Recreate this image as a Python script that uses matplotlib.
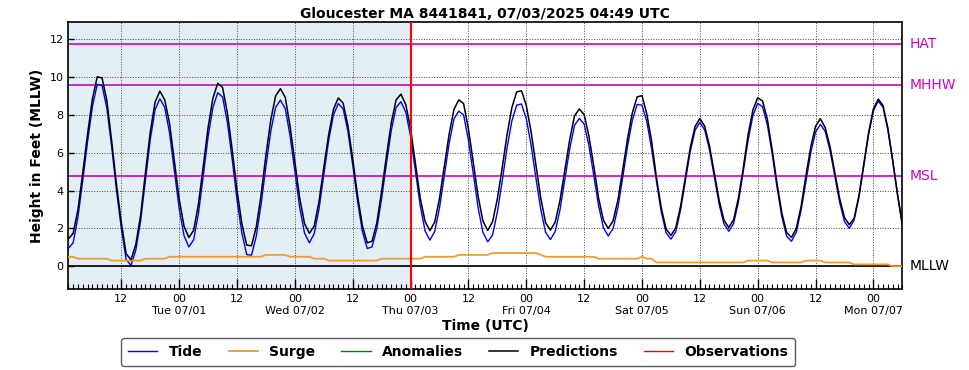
import numpy as np
import matplotlib
matplotlib.use('Agg')
import matplotlib.pyplot as plt
import matplotlib.dates as mdates
import matplotlib.transforms as mtransforms
from matplotlib.ticker import FuncFormatter

# hourly series starting 2025-06-30 01:00 UTC
start = np.datetime64('2025-06-30T01:00')
now_line = np.datetime64('2025-07-03T00:00')
x_end = np.datetime64('2025-07-07T06:00')

tide = [
    0.94, 1.24, 2.6, 4.55, 6.6, 8.45, 9.62, 9.56, 8.35, 6.3, 4.0, 2.0,
    0.35, 0.05, 0.85, 2.4, 4.55, 6.7, 8.28, 8.86, 8.40, 7.05, 5.05, 3.05,
    1.62, 1.02, 1.40, 2.8, 4.8, 6.85, 8.4, 9.18, 8.95, 7.6, 5.65, 3.5,
    1.75, 0.62, 0.58, 1.6, 3.3, 5.3, 7.15, 8.4, 8.79, 8.33, 6.9, 5.0,
    3.1, 1.75, 1.24, 1.72, 3.03, 4.83, 6.65, 8.0, 8.6, 8.33, 7.13, 5.35,
    3.43, 1.84, 0.94, 1.02, 2.0, 3.6, 5.45, 7.2, 8.4, 8.70, 8.15, 6.87,
    5.04, 3.2, 1.87, 1.38, 1.84, 3.1, 4.8, 6.5, 7.8, 8.2, 8.0, 6.65,
    4.9, 3.1, 1.8, 1.29, 1.65, 2.87, 4.5, 6.25, 7.68, 8.52, 8.58, 7.8,
    6.4, 4.65, 3.0, 1.8, 1.41, 1.84, 3.0, 4.6, 6.2, 7.45, 7.82, 7.52,
    6.37, 4.8, 3.2, 2.03, 1.6, 2.0, 3.1, 4.7, 6.35, 7.72, 8.56, 8.52,
    7.65, 6.2, 4.48, 2.87, 1.77, 1.43, 1.83, 2.97, 4.51, 6.06, 7.19, 7.6,
    7.21, 6.16, 4.73, 3.29, 2.24, 1.85, 2.26, 3.4, 4.99, 6.65, 7.96, 8.61,
    8.44, 7.48, 5.95, 4.19, 2.62, 1.59, 1.32, 1.8, 2.96, 4.49, 6.0, 7.1,
    7.5, 7.13, 6.13, 4.75, 3.38, 2.37, 2.0, 2.44, 3.64, 5.29, 6.96, 8.22,
    8.74, 8.4, 7.2, 5.6, 3.8, 2.2,
]

surge = [
    0.5, 0.5, 0.4, 0.4, 0.4, 0.4, 0.4, 0.4, 0.4, 0.3, 0.3, 0.3,
    0.3, 0.3, 0.3, 0.3, 0.4, 0.4, 0.4, 0.4, 0.4, 0.5, 0.5, 0.5,
    0.5, 0.5, 0.5, 0.5, 0.5, 0.5, 0.5, 0.5, 0.5, 0.5, 0.5, 0.5,
    0.5, 0.5, 0.5, 0.5, 0.5, 0.6, 0.6, 0.6, 0.6, 0.6, 0.5, 0.5,
    0.5, 0.5, 0.5, 0.4, 0.4, 0.4, 0.3, 0.3, 0.3, 0.3, 0.3, 0.3,
    0.3, 0.3, 0.3, 0.3, 0.3, 0.4, 0.4, 0.4, 0.4, 0.4, 0.4, 0.4,
    0.4, 0.4, 0.5, 0.5, 0.5, 0.5, 0.5, 0.5, 0.5, 0.6, 0.6, 0.6,
    0.6, 0.6, 0.6, 0.6, 0.7, 0.7, 0.7, 0.7, 0.7, 0.7, 0.7, 0.7,
    0.7, 0.7, 0.6, 0.5, 0.5, 0.5, 0.5, 0.5, 0.5, 0.5, 0.5, 0.5,
    0.5, 0.5, 0.4, 0.4, 0.4, 0.4, 0.4, 0.4, 0.4, 0.4, 0.4, 0.5,
    0.4, 0.4, 0.2, 0.2, 0.2, 0.2, 0.2, 0.2, 0.2, 0.2, 0.2, 0.2,
    0.2, 0.2, 0.2, 0.2, 0.2, 0.2, 0.2, 0.2, 0.2, 0.3, 0.3, 0.3,
    0.3, 0.3, 0.2, 0.2, 0.2, 0.2, 0.2, 0.2, 0.2, 0.3, 0.3, 0.3,
    0.3, 0.2, 0.2, 0.2, 0.2, 0.2, 0.2, 0.1, 0.1, 0.1, 0.1, 0.1,
    0.1, 0.1, 0.1, 0.0, 0.0, 0.0,
]

predictions = [
    1.44, 1.74, 3.0, 4.95, 7.0, 8.85, 10.02, 9.96, 8.75, 6.6, 4.3, 2.3,
    0.65, 0.35, 1.15, 2.7, 4.95, 7.1, 8.68, 9.26, 8.8, 7.55, 5.55, 3.55,
    2.12, 1.52, 1.9, 3.3, 5.3, 7.35, 8.9, 9.68, 9.45, 8.1, 6.15, 4.0,
    2.25, 1.12, 1.08, 2.1, 3.8, 5.9, 7.75, 9.0, 9.39, 8.93, 7.4, 5.5,
    3.6, 2.25, 1.74, 2.12, 3.43, 5.23, 6.95, 8.3, 8.9, 8.63, 7.43, 5.65,
    3.73, 2.14, 1.24, 1.32, 2.3, 4.0, 5.85, 7.6, 8.8, 9.1, 8.55, 7.27,
    5.44, 3.6, 2.37, 1.88, 2.34, 3.6, 5.3, 7.0, 8.3, 8.8, 8.6, 7.25,
    5.5, 3.7, 2.4, 1.89, 2.35, 3.57, 5.2, 6.95, 8.38, 9.22, 9.28, 8.5,
    7.1, 5.35, 3.6, 2.3, 1.91, 2.34, 3.5, 5.1, 6.7, 7.95, 8.32, 8.02,
    6.87, 5.3, 3.6, 2.43, 2.0, 2.4, 3.5, 5.1, 6.75, 8.12, 8.96, 9.02,
    8.05, 6.6, 4.68, 3.07, 1.97, 1.63, 2.03, 3.17, 4.71, 6.26, 7.39, 7.8,
    7.41, 6.36, 4.93, 3.49, 2.44, 2.05, 2.46, 3.6, 5.19, 6.95, 8.26, 8.91,
    8.74, 7.78, 6.15, 4.39, 2.82, 1.79, 1.52, 2.0, 3.16, 4.79, 6.3, 7.4,
    7.8, 7.33, 6.33, 4.95, 3.58, 2.57, 2.2, 2.54, 3.74, 5.39, 7.06, 8.32,
    8.84, 8.5, 7.3, 5.6, 3.8, 2.2,
]

datum_names = ['HAT', 'MHHW', 'MSL', 'MLLW']
datum_values = [11.74, 9.57, 4.75, 0.0]
datum_colors = ['#cc00cc', '#cc00cc', '#cc00cc', 'black']

title = 'Gloucester MA 8441841, 07/03/2025 04:49 UTC'


def fmt_time(x, pos):
    d = mdates.num2date(x)
    if d.hour == 0:
        return '00\n' + d.strftime('%a %m/%d')
    return '%02d' % d.hour


def main():
    times = start + np.arange(len(tide)) * np.timedelta64(1, 'h')

    fig = plt.figure(figsize=(9.69, 3.70), dpi=100)
    ax = fig.add_axes([0.0705, 0.2181, 0.8607, 0.7216])

    ax.axvspan(start, now_line, color='#e3eef5', zorder=0)

    for name, val, col in zip(datum_names, datum_values, datum_colors):
        ax.axhline(val, color=col, lw=1.2, zorder=2)

    ax.plot(times, tide, color='blue', lw=1.0, label='Tide', zorder=3)
    ax.plot(times, surge, color='#f39a30', lw=1.3, label='Surge', zorder=3)
    ax.plot([], [], color='green', lw=1.0, label='Anomalies')
    ax.plot(times, predictions, color='black', lw=1.1, label='Predictions', zorder=4)
    ax.plot([], [], color='red', lw=1.0, label='Observations')

    ax.axvline(now_line, color='red', lw=1.5, zorder=5)

    ax.set_xlim(start, x_end)
    ax.set_ylim(-1.22, 12.9)
    ax.set_yticks([0, 2, 4, 6, 8, 10, 12])

    ax.xaxis.set_major_locator(mdates.HourLocator(byhour=[0, 12]))
    ax.xaxis.set_minor_locator(mdates.HourLocator())
    ax.xaxis.set_major_formatter(FuncFormatter(fmt_time))

    ax.tick_params(axis='both', which='major', direction='in', labelsize=8, length=7, width=1)
    ax.tick_params(axis='x', which='minor', direction='in', length=3.5, width=0.8)
    ax.tick_params(axis='y', which='major', length=4)
    for s in ax.spines.values():
        s.set_linewidth(1.2)

    ax.grid(True, which='major', linestyle=':', color='#444444', lw=0.7)
    ax.set_axisbelow(True)

    trans = mtransforms.blended_transform_factory(ax.transAxes, ax.transData)
    for name, val, col in zip(datum_names, datum_values, datum_colors):
        ax.text(1.009, val, name, color=col, fontsize=10, ha='left', va='center',
                transform=trans)

    ax.set_title(title, fontsize=10, fontweight='bold', pad=3)
    ax.set_ylabel('Height in Feet (MLLW)', fontsize=10, fontweight='bold')
    ax.set_xlabel('Time (UTC)', fontsize=10, fontweight='bold', labelpad=2)

    fig.legend(loc='upper center', bbox_to_anchor=(0.473, 0.087), ncol=5,
               prop={'weight': 'bold', 'size': 10}, frameon=True, edgecolor='#333333',
               fancybox=True, handlelength=2.1, columnspacing=1.9, borderaxespad=0,
               handletextpad=0.8, borderpad=0.5)

    fig.savefig('out.png', dpi=100)


if __name__ == "__main__":
    main()
